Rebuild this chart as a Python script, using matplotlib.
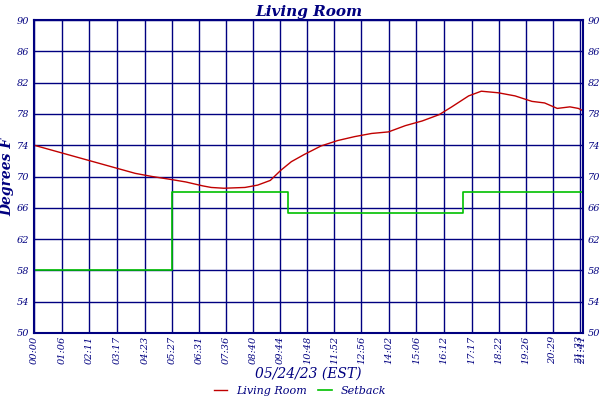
import matplotlib.pyplot as plt

# minutes since midnight
room_t = [0, 40, 80, 120, 160, 200, 240, 280, 327, 360, 400, 420, 450, 500,
          530, 560, 585, 610, 640, 680, 720, 760, 800, 840, 880, 920, 960,
          990, 1010, 1030, 1060, 1100, 1140, 1180, 1210, 1240, 1270, 1290, 1301]
room_v = [74.0, 73.4, 72.8, 72.2, 71.6, 71.0, 70.4, 70.0, 69.6, 69.3, 68.8, 68.6,
          68.5, 68.6, 68.9, 69.5, 70.8, 71.9, 72.8, 73.9, 74.6, 75.1, 75.5, 75.7,
          76.5, 77.1, 77.9, 78.9, 79.6, 80.3, 80.9, 80.7, 80.3, 79.6, 79.4, 78.7,
          78.9, 78.7, 78.4]

set_t = [0, 327, 327, 603, 603, 1017, 1017, 1301]
set_v = [58, 58, 68, 68, 65.3, 65.3, 68, 68]

tick_pos = [0, 66, 131, 197, 263, 327, 391, 456, 520, 584, 648, 712, 776,
            842, 906, 972, 1037, 1102, 1166, 1229, 1293, 1301]
tick_lab = ['00:00', '01:06', '02:11', '03:17', '04:23', '05:27', '06:31', '07:36',
            '08:40', '09:44', '10:48', '11:52', '12:56', '14:02', '15:06', '16:12',
            '17:17', '18:22', '19:26', '20:29', '21:33', '21:41']
y_ticks = [50, 54, 58, 62, 66, 70, 74, 78, 82, 86, 90]

navy = '#000080'
plt.rcParams['font.family'] = 'DejaVu Serif'
plt.rcParams['font.style'] = 'italic'

fig = plt.figure(figsize=(6, 4), dpi=100)
ax = fig.add_axes([34/600, 67/400, 549/600, 313/400])
ax.plot(room_t, room_v, color='#c00000', lw=1, label='Living Room')
ax.plot(set_t, set_v, color='#00c000', lw=1.2, label='Setback')
ax.set_xlim(0, 1301)
ax.set_ylim(50, 90)
ax.set_xticks(tick_pos)
ax.set_xticklabels(tick_lab, rotation=90, fontsize=7, color=navy)
ax.set_yticks(y_ticks)
ax.tick_params(axis='y', labelsize=7, labelcolor=navy, length=0, labelright=True)
ax.tick_params(axis='x', length=0, pad=2)
ax.grid(True, color=navy, lw=1)
for s in ax.spines.values():
    s.set_color(navy)
    s.set_linewidth(1.5)
ax.set_title('Living Room', fontsize=11, fontweight='bold', color=navy, pad=3)
ax.set_ylabel('Degrees F', fontsize=10, color=navy, fontweight='bold', labelpad=2)
ax.set_xlabel('05/24/23 (EST)', fontsize=10, color=navy, labelpad=2)
leg = fig.legend(loc='lower center', ncol=2, frameon=False, fontsize=8,
                 bbox_to_anchor=(0.5, -0.015), handlelength=1.2, columnspacing=1)
for t in leg.get_texts():
    t.set_color(navy)
fig.savefig('out.png', dpi=100)
